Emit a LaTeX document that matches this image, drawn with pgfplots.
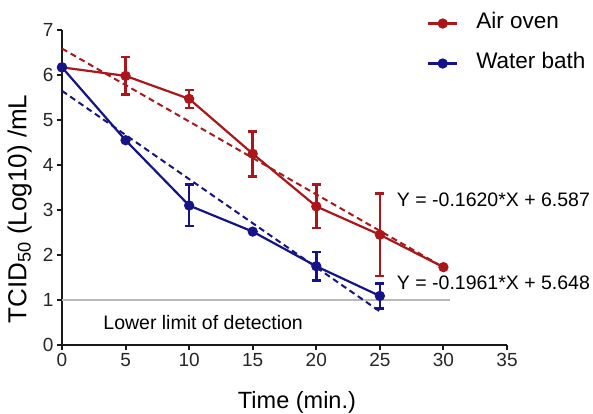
\documentclass[border=0pt]{standalone}
\usepackage{fontspec}
\setmainfont{Liberation Sans}
\usepackage{pgfplots}
\pgfplotsset{compat=1.18}
\definecolor{ored}{RGB}{170,22,26}
\definecolor{wblue}{RGB}{20,20,136}
\begin{document}
\begin{tikzpicture}
\begin{axis}[
  scale only axis, width=445pt, height=315pt,
  xmin=0, xmax=35, ymin=0, ymax=7,
  axis lines*=left,
  axis line style={line width=2.4pt, black!90},
  xtick={0,5,...,35}, ytick={0,1,...,7},
  tick align=outside, major tick length=5pt,
  tick style={line width=2pt, black!90},
  /pgf/number format/assume math mode=true,
  ticklabel style={font=\fontsize{19}{22}\selectfont, text=black!85},
  clip=false,
  xlabel={Time (min.)},
  ylabel={TCID\textsubscript{50} (Log10) /mL},
  label style={font=\fontsize{23.5}{26}\selectfont},
  xlabel style={at={(axis description cs:0.528,-0.183)}, anchor=center},
  ylabel style={at={(axis description cs:-0.095,0.432)}, anchor=center, font=\fontsize{26}{28}\selectfont},
  legend cell align=left,
  legend image code/.code={\draw[#1, mark repeat=2, mark phase=2] plot coordinates {(0pt,0pt)(14.5pt,0pt)(29pt,0pt)};},
  legend style={at={(axis description cs:0.820,1.053)}, anchor=north west,
    draw=none, fill=none, inner sep=0pt, row sep=20pt, column sep=18pt,
    font=\fontsize{22.5}{25}\selectfont,
    nodes={inner sep=0pt, text height=15pt, text depth=5pt}},
]
\coordinate (O) at (axis cs:0,0);
% lower limit of detection
\addplot[gray!55, line width=1.6pt, forget plot] coordinates {(0,1) (30.5,1)};
% fitted lines
\addplot[ored, dashed, dash pattern=on 6pt off 4pt, line width=2pt, forget plot] coordinates {(0,6.587) (30,1.727)};
\addplot[wblue, dashed, dash pattern=on 6pt off 4pt, line width=2pt, forget plot] coordinates {(0,5.648) (25,0.7455)};
% Air oven
\addplot[ored, line width=2.2pt, mark=*, mark size=4pt, mark options={solid, fill=ored}] coordinates {
  (0,6.17) (5,5.98) (10,5.47) (15,4.25) (20,3.08) (25,2.45) (30,1.73)};
\addlegendentry{Air oven}
\addplot[draw=none, mark=none, forget plot,
  error bars/.cd, y dir=both, y explicit,
  error bar style={draw=ored, solid, line width=2.6pt},
  error mark options={rotate=90, mark size=4.5pt, draw=ored, line width=2.6pt}] coordinates {
  (5,5.98) +- (0,0.42)
  (10,5.47) +- (0,0.20)
  (15,4.25) +- (0,0.50)
  (20,3.08) +- (0,0.48)
  (25,2.45) +- (0,0.92)};
% Water bath
\addplot[wblue, line width=2.2pt, mark=*, mark size=4pt, mark options={solid, fill=wblue}] coordinates {
  (0,6.17) (5,4.55) (10,3.10) (15,2.52) (20,1.75) (25,1.09)};
\addlegendentry{Water bath}
\addplot[draw=none, mark=none, forget plot,
  error bars/.cd, y dir=both, y explicit,
  error bar style={draw=wblue, solid, line width=2.6pt},
  error mark options={rotate=90, mark size=4.5pt, draw=wblue, line width=2.6pt}] coordinates {
  (10,3.10) +- (0,0.46)
  (20,1.75) +- (0,0.32)
  (25,1.09) +- (0,0.28)};
\node[anchor=base west, inner sep=0pt, font=\fontsize{19.5}{22}\selectfont] at (axis cs:26.33,3.08) {Y = -0.1620*X + 6.587};
\node[anchor=base west, inner sep=0pt, font=\fontsize{19.5}{22}\selectfont] at (axis cs:26.33,1.23) {Y = -0.1961*X + 5.648};
\node[anchor=base, inner sep=0pt, font=\fontsize{19.5}{22}\selectfont] at (axis cs:11.1,0.34) {Lower limit of detection};
\end{axis}
\pgfresetboundingbox
\path[use as bounding box] (O) ++(-62pt,-69pt) rectangle ++(593pt,414pt);
\end{tikzpicture}
\end{document}
